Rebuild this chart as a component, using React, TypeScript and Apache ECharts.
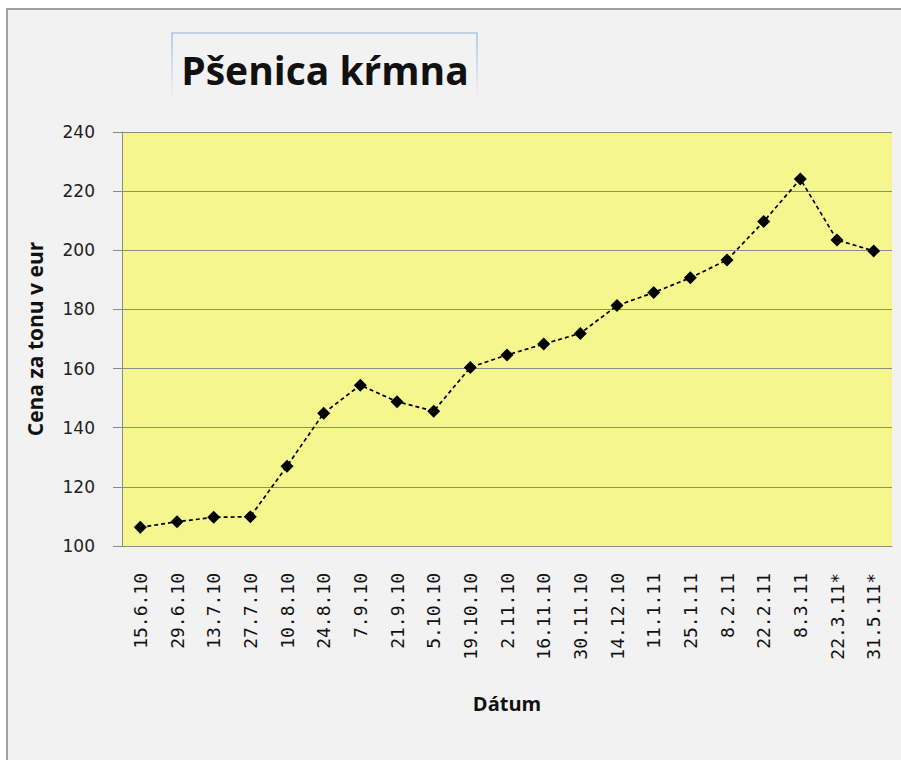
import React, { useEffect, useRef } from "react";
import * as echarts from "echarts";

const title = "Pšenica kŕmna";
const yAxisTitle = "Cena za tonu v eur";
const xAxisTitle = "Dátum";
const categories = [
  "15.6.10", "29.6.10", "13.7.10", "27.7.10", "10.8.10", "24.8.10", "7.9.10",
  "21.9.10", "5.10.10", "19.10.10", "2.11.10", "16.11.10", "30.11.10", "14.12.10",
  "11.1.11", "25.1.11", "8.2.11", "22.2.11", "8.3.11", "22.3.11*", "31.5.11*",
];
const prices = [
  106.3, 108.2, 109.7, 109.9, 127, 144.9, 154.4, 148.8, 145.6, 160.4, 164.6,
  168.3, 171.9, 181.3, 185.7, 190.7, 196.7, 209.7, 224.1, 203.5, 199.8,
];
const yMin = 100;
const yMax = 240;
const yStep = 20;

export default function App() {
  const ref = useRef<HTMLDivElement>(null);
  useEffect(() => {
    if (!ref.current) return;
    const chart = echarts.init(ref.current, null, { renderer: "svg" });
    chart.setOption({
      animation: false,
      backgroundColor: "#ffffff",
      graphic: [
        {
          type: "rect",
          z: -10,
          shape: { x: 7, y: 9, width: 910, height: 770 },
          style: { fill: "#f2f2f2", stroke: "#a0a0a0", lineWidth: 2 },
        },
        {
          type: "polyline",
          z: -5,
          shape: { points: [[172, 100], [172, 33], [477, 33], [477, 100]] },
          style: {
            fill: "none",
            lineWidth: 1.2,
            stroke: new echarts.graphic.LinearGradient(0, 0, 0, 1, [
              { offset: 0, color: "#8fb2de" },
              { offset: 1, color: "#f2f2f2" },
            ]),
          },
        },
        {
          type: "text",
          x: 325,
          y: 69,
          style: {
            text: title,
            font: "bold 39px 'Open Sans'",
            fill: "#111111",
            align: "center",
            verticalAlign: "middle",
          },
        },
      ],
      grid: {
        left: 122,
        right: 9,
        top: 132,
        bottom: 214,
        show: true,
        backgroundColor: "#f6f68f",
        borderWidth: 0,
      },
      xAxis: {
        type: "category",
        data: categories,
        boundaryGap: true,
        name: xAxisTitle,
        nameLocation: "middle",
        nameGap: 147,
        nameTextStyle: { fontFamily: "Open Sans", fontWeight: "bold", fontSize: 20, color: "#111" },
        axisLine: { lineStyle: { color: "#8a8a8a", width: 1 } },
        axisTick: { show: false },
        axisLabel: {
          rotate: 90,
          interval: 0,
          margin: 27,
          fontFamily: "DejaVu Sans Mono",
          fontSize: 18,
          color: "#111",
        },
        splitLine: { show: false },
      },
      yAxis: {
        type: "value",
        min: yMin,
        max: yMax,
        interval: yStep,
        name: yAxisTitle,
        nameLocation: "middle",
        nameRotate: 90,
        nameGap: 77,
        nameTextStyle: { fontFamily: "Open Sans", fontWeight: "bold", fontSize: 21, color: "#111" },
        axisLine: { show: true, lineStyle: { color: "#8a8a8a", width: 1 } },
        axisTick: { show: true, length: 9, lineStyle: { color: "#8a8a8a" } },
        axisLabel: {
          margin: 27,
          fontFamily: "DejaVu Sans",
          fontSize: 17,
          color: "#222",
        },
        splitLine: { show: true, lineStyle: { color: "#8a8a8a", width: 1 } },
      },
      series: [
        {
          type: "line",
          data: prices,
          symbol: "diamond",
          symbolSize: 13,
          itemStyle: { color: "#000000" },
          lineStyle: { color: "#000000", width: 1.7, type: [4, 3] },
        },
      ],
    });
    return () => chart.dispose();
  }, []);
  return (
    <div
      ref={ref}
      style={{ position: "fixed", left: 0, top: 0, width: 901, height: 760 }}
    />
  );
}
